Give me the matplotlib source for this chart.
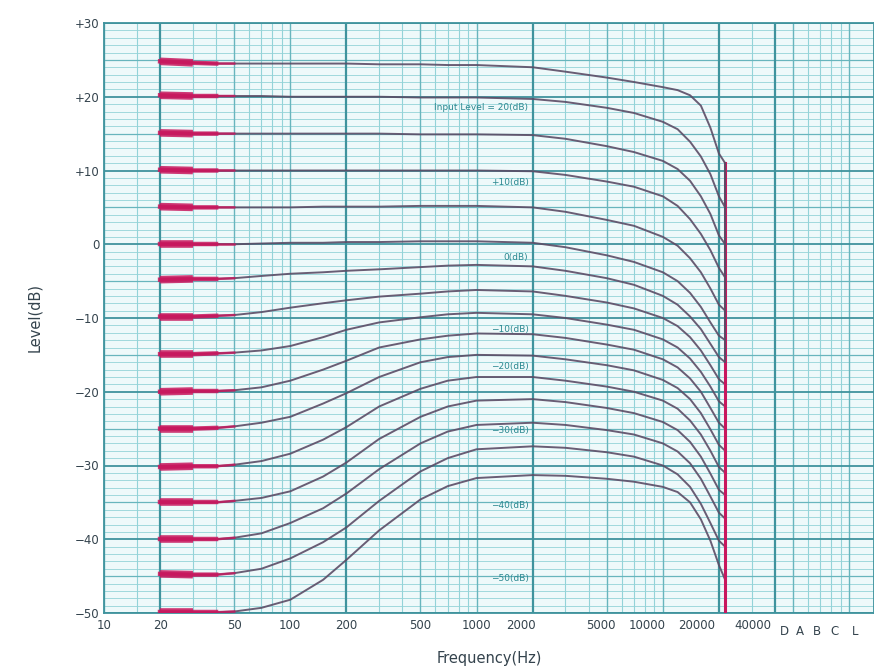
import matplotlib
matplotlib.use("Agg")
import matplotlib.pyplot as plt
import matplotlib.transforms as mtransforms

# ---------------- data ----------------
freqs = [20, 30, 40, 50, 70, 100, 150, 200, 300, 500, 700, 1000, 2000, 3000,
         5000, 7000, 10000, 12000, 14000, 16000, 18000, 20000, 21600]

lvl_p25 = [24.8, 24.6, 24.5, 24.5, 24.5, 24.5, 24.5, 24.5, 24.4, 24.4, 24.3, 24.3, 24.0, 23.4, 22.6, 22.0, 21.3, 20.9, 20.2, 18.8, 15.8, 12.3, 11.0]
lvl_p20 = [20.2, 20.1, 20.1, 20.1, 20.1, 20.0, 20.0, 20.0, 20.0, 19.9, 19.9, 19.9, 19.7, 19.3, 18.5, 17.8, 16.6, 15.6, 13.9, 11.9, 9.5, 6.5, 5.0]
lvl_p15 = [15.1, 15.0, 15.0, 15.0, 15.0, 15.0, 15.0, 15.0, 15.0, 14.9, 14.9, 14.9, 14.8, 14.3, 13.3, 12.5, 11.3, 10.2, 8.6, 6.5, 4.1, 1.2, 0.0]
lvl_p10 = [10.1, 10.0, 10.0, 10.0, 10.0, 10.0, 10.0, 10.0, 10.0, 10.0, 10.0, 10.0, 9.9, 9.4, 8.5, 7.8, 6.5, 5.2, 3.4, 1.4, -0.8, -3.2, -4.5]
lvl_p05 = [5.1, 5.0, 5.0, 5.0, 5.0, 5.0, 5.1, 5.1, 5.1, 5.2, 5.2, 5.2, 5.0, 4.4, 3.3, 2.5, 1.0, -0.2, -1.9, -3.8, -6.0, -8.2, -9.0]
lvl_0 = [0.0, 0.0, 0.0, 0.0, 0.1, 0.2, 0.2, 0.3, 0.3, 0.4, 0.4, 0.4, 0.2, -0.4, -1.5, -2.4, -3.8, -5.0, -6.6, -8.5, -10.6, -12.4, -13.0]
lvl_m05 = [-4.8, -4.7, -4.7, -4.6, -4.3, -4.0, -3.8, -3.6, -3.4, -3.1, -2.9, -2.8, -3.0, -3.6, -4.6, -5.5, -7.0, -8.2, -9.8, -11.5, -13.5, -15.3, -16.0]
lvl_m10 = [-9.8, -9.8, -9.7, -9.6, -9.2, -8.6, -8.0, -7.6, -7.1, -6.7, -6.4, -6.2, -6.4, -7.0, -7.9, -8.7, -10.0, -11.1, -12.6, -14.4, -16.4, -18.3, -19.0]
lvl_m15 = [-14.9, -14.9, -14.8, -14.7, -14.4, -13.8, -12.6, -11.6, -10.6, -9.9, -9.5, -9.3, -9.5, -10.0, -10.9, -11.6, -12.9, -14.0, -15.5, -17.3, -19.3, -21.3, -22.0]
lvl_m20 = [-20.0, -19.9, -19.9, -19.8, -19.4, -18.5, -17.0, -15.8, -14.0, -12.9, -12.4, -12.1, -12.2, -12.7, -13.6, -14.3, -15.6, -16.7, -18.2, -20.0, -22.2, -24.2, -25.0]
lvl_m25 = [-25.0, -25.0, -24.9, -24.7, -24.2, -23.4, -21.6, -20.2, -18.0, -16.0, -15.3, -15.0, -15.1, -15.6, -16.4, -17.1, -18.4, -19.5, -21.0, -22.9, -25.1, -27.2, -28.0]
lvl_m30 = [-30.2, -30.1, -30.1, -29.9, -29.4, -28.4, -26.5, -24.8, -22.0, -19.6, -18.5, -18.0, -18.0, -18.5, -19.3, -20.0, -21.2, -22.3, -23.9, -25.8, -28.0, -30.2, -31.0]
lvl_m35 = [-35.0, -35.0, -35.0, -34.8, -34.4, -33.5, -31.5, -29.6, -26.4, -23.4, -22.0, -21.2, -21.0, -21.4, -22.2, -22.9, -24.1, -25.2, -26.8, -28.8, -31.1, -33.3, -34.0]
lvl_m40 = [-40.0, -40.0, -40.0, -39.8, -39.2, -37.8, -35.8, -33.8, -30.5, -27.0, -25.4, -24.5, -24.2, -24.5, -25.2, -25.8, -27.0, -28.1, -29.7, -31.8, -34.2, -36.4, -37.2]
lvl_m45 = [-44.7, -44.8, -44.8, -44.6, -44.0, -42.6, -40.4, -38.4, -34.8, -30.8, -29.0, -27.8, -27.4, -27.6, -28.2, -28.8, -30.0, -31.2, -32.9, -35.2, -37.8, -40.2, -41.0]
lvl_m50 = [-49.9, -49.9, -49.9, -49.8, -49.3, -48.2, -45.5, -42.8, -38.8, -34.6, -32.8, -31.7, -31.3, -31.4, -31.8, -32.2, -32.9, -33.6, -35.0, -37.3, -40.2, -43.5, -45.5]

curves = [lvl_p25, lvl_p20, lvl_p15, lvl_p10, lvl_p05, lvl_0, lvl_m05, lvl_m10,
          lvl_m15, lvl_m20, lvl_m25, lvl_m30, lvl_m35, lvl_m40, lvl_m45, lvl_m50]

cutoff_freq = 21600

x_tick_vals = [10, 20, 50, 100, 200, 500, 1000, 2000, 5000, 10000, 20000, 40000]
x_tick_labels = ['10', '20', '50', '100', '200', '500', '1000', '2000', '5000', '10000', '20000', '40000']
x_label_shift_px = [0, 0, 0, 0, 0, 0, 0, -12, -6, -16, -22, -22]
weight_labels = ['D', 'A', 'B', 'C', 'L']
weight_label_pos = [0.884, 0.904, 0.926, 0.949, 0.975]
y_tick_vals = [30, 20, 10, 0, -10, -20, -30, -40, -50]
y_tick_labels = ['+30', '+20', '+10', '0', '\u221210', '\u221220', '\u221230', '\u221240', '\u221250']

note_texts = ['Input Level = 20(dB)', '+10(dB)', '0(dB)', '\u221210(dB)', '\u221220(dB)',
              '\u221230(dB)', '\u221240(dB)', '\u221250(dB)']
note_levels = [18.6, 8.4, -1.8, -11.5, -16.6, -25.3, -35.4, -45.3]
note_freq = 1900

# ---------------- figure ----------------
fig = plt.figure(figsize=(8.74, 6.72), dpi=100)
ax = fig.add_axes([104 / 874, 59 / 672, 770 / 874, 590 / 672])
ax.set_xscale('log')
xmin, xmax = 10, 136000
ax.set_xlim(xmin, xmax)
ax.set_ylim(-50, 30)
ax.set_facecolor('#eef9fa')

grid_minor = '#94d3d8'
grid_mid = '#68b5bd'
grid_major = '#3f939d'

# horizontal grid
for v in range(-50, 31):
    if v % 10 == 0:
        ax.axhline(v, color=grid_major, lw=1.3, zorder=0.5)
    elif v % 5 == 0:
        ax.axhline(v, color=grid_mid, lw=0.9, zorder=0.4)
    else:
        ax.axhline(v, color=grid_minor, lw=0.6, zorder=0.3)

# vertical grid
for dec in [10, 100, 1000, 10000, 100000]:
    for n in range(1, 10):
        f = n * dec
        if f < xmin or f > xmax:
            continue
        if f in (20, 200, 2000, 20000, 40000):
            ax.axvline(f, color=grid_major, lw=1.6, zorder=0.5)
        elif n in (1, 5):
            ax.axvline(f, color=grid_mid, lw=1.0, zorder=0.4)
        else:
            ax.axvline(f, color=grid_minor, lw=0.8, zorder=0.3)
ax.axvline(15, color=grid_minor, lw=0.8, zorder=0.3)

# curves
curve_col = '#5b4c66'
red = '#c8185e'
for lv in curves:
    ax.plot(freqs, lv, color=curve_col, lw=1.4, alpha=0.9, zorder=3,
            solid_capstyle='round')
    ax.plot(freqs[:4], lv[:4], color=red, lw=1.8, alpha=0.8, zorder=4)
    ax.plot(freqs[:3], lv[:3], color=red, lw=3.2, alpha=0.85, zorder=4)
    ax.plot(freqs[:2], lv[:2], color=red, lw=5.5, alpha=0.85, zorder=4,
            solid_capstyle='butt')

# cutoff vertical trace
ends = [lv[-1] for lv in curves]
ax.plot([cutoff_freq, cutoff_freq], [max(ends), -50], color=red, lw=2.2, zorder=4)
ax.plot([cutoff_freq, cutoff_freq], [max(ends), ends[6]], color=curve_col, lw=1.4, zorder=5)

# notes
for t, lvl in zip(note_texts, note_levels):
    ax.text(note_freq, lvl, t, ha='right', va='center', fontsize=6.5,
            color='#2b8890', zorder=6)

# ticks
ax.set_xticks(x_tick_vals)
ax.set_xticklabels(x_tick_labels)
ax.set_xticks([], minor=True)
ax.set_yticks(y_tick_vals)
ax.set_yticklabels(y_tick_labels)
ax.tick_params(axis='both', length=0, labelsize=8.5, colors='#34434d')
ax.tick_params(axis='x', pad=4)
ax.tick_params(axis='y', pad=3)

for lab, dx in zip(ax.get_xticklabels(), x_label_shift_px):
    if dx:
        lab.set_transform(lab.get_transform() +
                          mtransforms.ScaledTranslation(dx / 100, 0, fig.dpi_scale_trans))

for lab, xp in zip(weight_labels, weight_label_pos):
    ax.text(xp, -0.021, lab, transform=ax.transAxes, ha='center', va='top',
            fontsize=8.5, color='#34434d')

for s in ax.spines.values():
    s.set_color(grid_major)
    s.set_linewidth(1.3)

ax.set_xlabel('Frequency(Hz)', fontsize=10.5, color='#34434d', labelpad=14)
ax.set_ylabel('Level(dB)', fontsize=10.5, color='#34434d', labelpad=24)

fig.savefig('out.png', dpi=100, facecolor='white')
